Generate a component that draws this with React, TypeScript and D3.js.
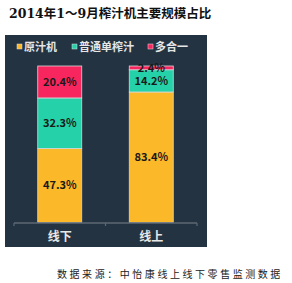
import { useEffect, useRef } from "react";
import * as d3 from "d3";

const categories = ["线下", "线上"];
const seriesNames = ["原汁机", "普通单榨汁", "多合一"];
const yuanzhiji = [47.3, 83.4];
const putong = [32.3, 14.2];
const duoheyi = [20.4, 2.4];
const colors = ["#fbb829", "#25d1a8", "#f7265f"];

export default function App() {
  const ref = useRef<SVGSVGElement>(null);

  useEffect(() => {
    if (!ref.current) return;
    const svg = d3.select(ref.current);
    svg.selectAll("*").remove();

    const width = 292;
    const height = 283;

    svg.attr("width", width).attr("height", height).style("background", "#fff");

    // title
    svg.append("text")
      .attr("x", 9)
      .attr("y", 18)
      .attr("font-family", "'DejaVu Serif', 'Noto Sans CJK SC', serif")
      .attr("font-weight", "bold")
      .attr("font-size", 12.5)
      .attr("fill", "#111")
      .text("2014年1～9月榨汁机主要规模占比");

    // dark panel
    svg.append("rect")
      .attr("x", 5).attr("y", 35)
      .attr("width", 202).attr("height", 212)
      .attr("fill", "#243341");

    const table = categories.map((c, i) => ({
      cat: c,
      [seriesNames[0]]: yuanzhiji[i],
      [seriesNames[1]]: putong[i],
      [seriesNames[2]]: duoheyi[i],
    }));

    const stack = d3.stack<any>().keys(seriesNames)(table);

    const x = d3.scaleBand().domain(categories).range([14, 197]).paddingInner(0).paddingOuter(0);
    const y = d3.scaleLinear().domain([0, 100]).range([222.5, 66]);
    const barW = 44;

    const font = "'Noto Sans CJK SC', 'Liberation Sans', sans-serif";

    stack.forEach((layer, si) => {
      const g = svg.append("g");
      g.selectAll("rect")
        .data(layer)
        .join("rect")
        .attr("x", (d: any) => x(d.data.cat)! + x.bandwidth() / 2 - barW / 2)
        .attr("y", d => y(d[1]))
        .attr("width", barW)
        .attr("height", d => y(d[0]) - y(d[1]))
        .attr("fill", colors[si])
        .attr("stroke", "#d8d8d8")
        .attr("stroke-width", 0.8);
      g.selectAll("text")
        .data(layer)
        .join("text")
        .attr("x", (d: any) => x(d.data.cat)! + x.bandwidth() / 2)
        .attr("y", d => (y(d[0]) + y(d[1])) / 2 + 4)
        .attr("text-anchor", "middle")
        .attr("font-family", font)
        .attr("font-size", 11)
        .attr("font-weight", "bold")
        .attr("fill", "#1a1a1a")
        .text(d => `${(d[1] - d[0]).toFixed(1)}%`);
    });

    // x axis
    const axis = svg.append("g").attr("transform", "translate(0,223)");
    axis.call(d3.axisBottom(x).tickSize(0).tickSizeOuter(0))
      .call(g => g.select(".domain").remove());
    axis.append("line")
      .attr("x1", 14).attr("x2", 197)
      .attr("stroke", "#5c6873").attr("stroke-width", 1.5);
    [14, x(categories[1])!, 197].forEach(t => {
      axis.append("line")
        .attr("x1", t).attr("x2", t).attr("y1", 0).attr("y2", 3)
        .attr("stroke", "#5c6873").attr("stroke-width", 1.2);
    });
    axis.selectAll(".tick text")
      .attr("y", 18)
      .attr("dy", "0")
      .attr("font-family", font)
      .attr("font-size", 12)
      .attr("font-weight", "bold")
      .attr("fill", "#e8e8e8");

    // legend
    const legendX = [17, 72, 148];
    const legend = svg.append("g");
    seriesNames.forEach((name, i) => {
      legend.append("rect")
        .attr("x", legendX[i]).attr("y", 44)
        .attr("width", 5).attr("height", 5)
        .attr("fill", colors[i])
        .attr("stroke", "#ddd").attr("stroke-width", 0.5);
      legend.append("text")
        .attr("x", legendX[i] + 7).attr("y", 50.5)
        .attr("font-family", font)
        .attr("font-size", 11)
        .attr("font-weight", "bold")
        .attr("fill", "#e6e6e6")
        .text(name);
    });

    // source
    svg.append("text")
      .attr("x", 57).attr("y", 278)
      .attr("font-family", "'Noto Sans CJK SC', serif")
      .attr("font-size", 10)
      .attr("letter-spacing", 2.55)
      .attr("fill", "#222")
      .text("数据来源：中怡康线上线下零售监测数据");
  }, []);

  return <svg ref={ref} style={{ position: "absolute", left: 0, top: 0 }}></svg>;
}
